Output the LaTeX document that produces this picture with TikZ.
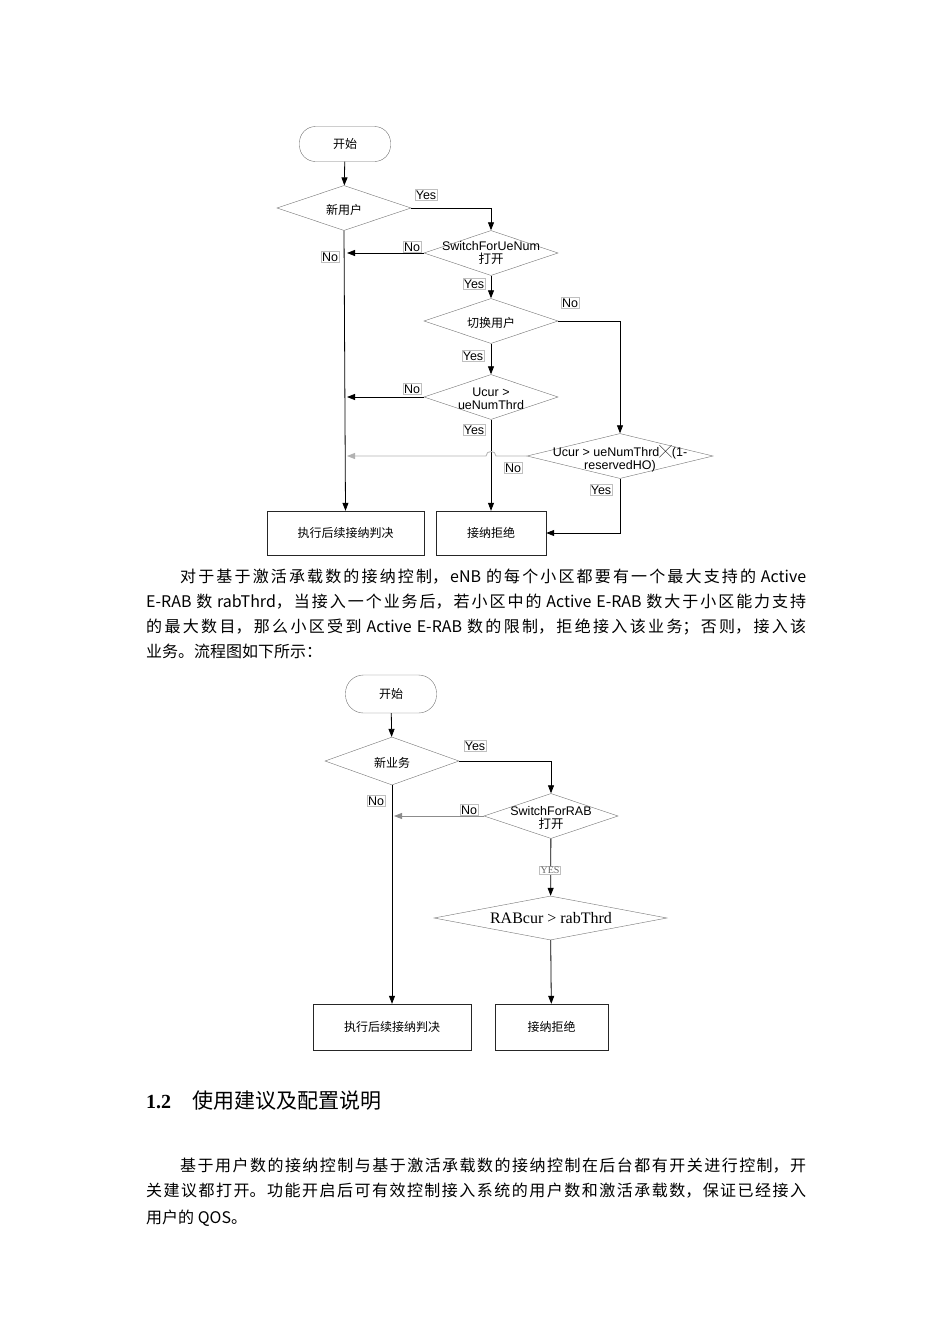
\documentclass[tikz,border=0pt]{standalone}
\usepackage{fontspec}
\setmainfont{Liberation Serif}
\newfontfamily\cjk{Noto Sans CJK SC}
\newfontfamily\arial{Liberation Sans}
\usetikzlibrary{shapes.geometric,arrows.meta}
\XeTeXlinebreaklocale "zh"
\XeTeXlinebreakskip=0pt plus 3pt
\newcommand\jline[4]{\node[anchor=base west,inner sep=0] (#1) at (#2) {\parbox[b]{#3pt}{\parfillskip=0pt\parindent=0pt\cjk\fontsize{16}{18}\selectfont #4}};}
\begin{document}
\begin{tikzpicture}[x=1pt,y=-1pt,
  dia/.style={diamond,draw=black!55,inner sep=0,minimum width=#1,minimum height=45},
  dia/.default=134,
  term/.style={rounded corners=16,draw=black!55,minimum width=91,minimum height=35,font=\cjk\fontsize{12}{14}\selectfont},
  box/.style={draw=black!85,font=\cjk\fontsize{12}{14}\selectfont},
  txt/.style={font=\cjk\fontsize{12}{14}\selectfont,align=center,inner sep=0},
  etxt/.style={font=\arial\fontsize{12.5}{14}\selectfont,align=center,inner sep=0},
  lab/.style={draw=black!25,line width=0.3pt,inner sep=1pt,font=\arial\fontsize{12.5}{14}\selectfont},
  arr/.style={-{Triangle[length=8pt,width=6pt]},thick},
  ln/.style={thick}]
\useasboundingbox (0,0) rectangle (950,1344);
% ---------- top chart
\node[term] (s1) at (345,144) {开始};
\node[dia] (d1) at (344,208) {};
\node[txt] at (344,210) {新用户};
\node[dia] (d2) at (491,253) {};
\node[etxt] at (491,253) {SwitchForUeNum\\[-1pt]{\cjk 打开}};
\node[dia] (d3) at (491,321) {};
\node[txt] at (491,323) {切换用户};
\node[dia] (d4) at (491,397) {};
\node[etxt] at (491,399) {Ucur >\\[-1pt]ueNumThrd};
\node[dia=186] (d5) at (620,456) {};
\node[etxt] at (620,459) {Ucur > ueNumThrd{\cjk ╳}(1-\\[-1pt]reservedHO)};
\node[box,minimum width=157,minimum height=44] (b1) at (345.5,533) {执行后续接纳判决};
\node[box,minimum width=110,minimum height=44] (b2) at (491,533) {接纳拒绝};
\coordinate (m1) at (345,253);
\coordinate (m2) at (345,397);
\coordinate (m3) at (345,456);
\draw[arr] (s1) -- (d1);
\draw[arr] (d1.east) -| (d2.north);
\draw[arr] (d2.west) -- ([xshift=2]m1);
\draw[arr] (d2) -- (d3);
\draw[arr] (d3.east) -| (d5.north);
\draw[arr] (d3) -- (d4);
\draw[arr] (d4.west) -- ([xshift=2]m2);
\draw[arr] (d4) -- (b2);
\draw[arr,black!30] (d5.west) -- (496,456) .. controls (496,450) and (486,450) .. (486,456) -- ([xshift=2]m3);
\draw[arr] (d5.south) |- (b2.east);
\draw[arr] (d1.south) -- (b1.north);
\node[lab] at (426,195) {Yes};
\node[lab] at (412,247) {No};
\node[lab] at (330,257) {No};
\node[lab] at (474,284) {Yes};
\node[lab] at (570,303) {No};
\node[lab] at (473,356) {Yes};
\node[lab] at (412,389) {No};
\node[lab] at (474,430) {Yes};
\node[lab] at (513,468) {No};
\node[lab] at (601,490) {Yes};
% ---------- paragraph 1
\jline{p1}{180,582}{626}{对于基于激活承载数的接纳控制，eNB 的每个小区都要有一个最大支持的 Active}
\jline{p2}{146,607}{660}{E-RAB 数 rabThrd，当接入一个业务后，若小区中的 Active E-RAB 数大于小区能力支持}
\jline{p3}{146,632}{660}{的最大数目，那么小区受到 Active E-RAB 数的限制，拒绝接入该业务；否则，接入该}
\node[anchor=base west,inner sep=0,font=\cjk\fontsize{16}{18}\selectfont] (p4) at (146,657) {业务。流程图如下所示：};
% ---------- bottom chart
\node[term,minimum height=38,rounded corners=18] (s2) at (391,694) {开始};
\node[dia,minimum height=48] (e1) at (392,761) {};
\node[txt] at (392,763) {新业务};
\node[dia] (e2) at (551,816) {};
\node[etxt] at (551,818) {SwitchForRAB\\[-1pt]{\cjk 打开}};
\node[dia=233,minimum height=44] (e3) at (550.5,918) {};
\node[font=\fontsize{16}{18}\selectfont,inner sep=0] at (551,918) {RABcur > rabThrd};
\node[box,minimum width=158,minimum height=46] (c1) at (392,1027) {执行后续接纳判决};
\node[box,minimum width=113,minimum height=46] (c2) at (551.5,1027) {接纳拒绝};
\coordinate (n1) at (392,816);
\draw[arr] (s2) -- (e1);
\draw[arr] (e1.east) -| (e2.north);
\draw[arr,black!45] (e2.west) -- ([xshift=2]n1);
\draw[arr] (e2) -- (e3);
\draw[arr] (e3) -- (c2);
\draw[arr] (e1.south) -- (c1.north);
\node[lab] at (475,746) {Yes};
\node[lab] at (469,810) {No};
\node[lab] at (376,801) {No};
\node[lab,font=\fontsize{10}{12}\selectfont,text=black!60,fill=white] at (550,870) {YES};
% ---------- heading and paragraph 2
\node[anchor=base west,inner sep=0,font=\bfseries\fontsize{20}{22}\selectfont] (h1) at (146,1108) {1.2};
\node[anchor=base west,inner sep=0,font=\cjk\fontsize{21}{24}\selectfont] (h2) at (192,1108) {使用建议及配置说明};
\jline{q1}{180,1171}{626}{基于用户数的接纳控制与基于激活承载数的接纳控制在后台都有开关进行控制，开}
\jline{q2}{146,1196}{660}{关建议都打开。功能开启后可有效控制接入系统的用户数和激活承载数，保证已经接入}
\node[anchor=base west,inner sep=0,font=\cjk\fontsize{16}{18}\selectfont] (q3) at (146,1223) {用户的 QOS。};
\end{tikzpicture}
\end{document}
